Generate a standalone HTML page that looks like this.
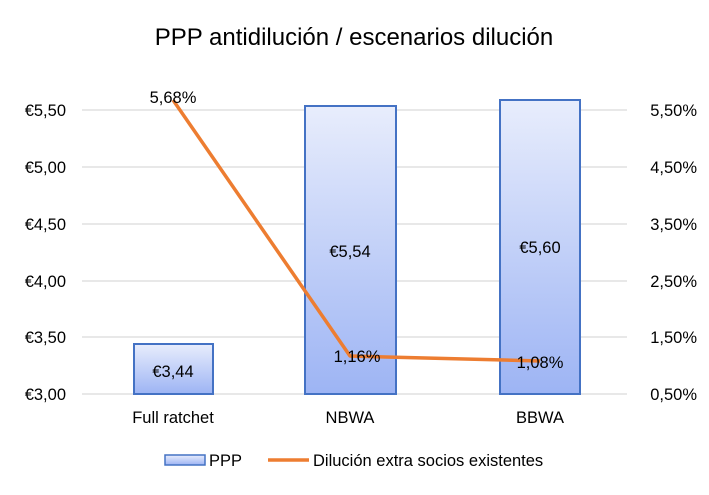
<!DOCTYPE html>
<html><head><meta charset="utf-8"><style>body{margin:0;background:#fff}</style></head><body>
<svg width="709" height="490" xmlns="http://www.w3.org/2000/svg" font-family="Liberation Sans, sans-serif">
<defs>
<linearGradient id="g1" x1="0" y1="0" x2="0" y2="1"><stop offset="0" stop-color="#e8edfc"/><stop offset="1" stop-color="#9db4f4"/></linearGradient>
</defs>
<text x="354" y="45" font-size="24" text-anchor="middle" fill="#000">PPP antidilución  / escenarios  dilución</text>
<g stroke="#d9d9d9" stroke-width="1.3">
<line x1="82" x2="627" y1="110" y2="110"/><line x1="82" x2="627" y1="167" y2="167"/>
<line x1="82" x2="627" y1="224" y2="224"/><line x1="82" x2="627" y1="281" y2="281"/>
<line x1="82" x2="627" y1="337" y2="337"/><line x1="82" x2="627" y1="394" y2="394"/>
</g>
<g font-size="16.5" fill="#000" text-anchor="end">
<text x="66" y="116">€5,50</text><text x="66" y="173">€5,00</text><text x="66" y="230">€4,50</text>
<text x="66" y="287">€4,00</text><text x="66" y="343">€3,50</text><text x="66" y="400">€3,00</text>
</g>
<g font-size="16.5" fill="#000" text-anchor="end">
<text x="697" y="116">5,50%</text><text x="697" y="173">4,50%</text><text x="697" y="230">3,50%</text>
<text x="697" y="287">2,50%</text><text x="697" y="343">1,50%</text><text x="697" y="400">0,50%</text>
</g>
<g stroke="#4472c4" stroke-width="2" fill="url(#g1)">
<rect x="134" y="344" width="79" height="50"/>
<rect x="305" y="106" width="91" height="288"/>
<rect x="500" y="100" width="80" height="294"/>
</g>
<g font-size="16.5" fill="#000" text-anchor="middle">
<text x="173" y="377">€3,44</text><text x="350" y="257">€5,54</text><text x="540" y="253">€5,60</text>
</g>
<polyline points="173,100 350,356 540,361" fill="none" stroke="#ed7d31" stroke-width="3.5" stroke-linejoin="round"/>
<g font-size="16.5" fill="#000" text-anchor="middle">
<text x="173" y="103">5,68%</text><text x="357" y="362">1,16%</text><text x="540" y="368">1,08%</text>
</g>
<g font-size="16.5" fill="#000" text-anchor="middle">
<text x="173" y="423">Full ratchet</text><text x="350" y="423">NBWA</text><text x="540" y="423">BBWA</text>
</g>
<rect x="165" y="455" width="40" height="10" fill="url(#g1)" stroke="#4472c4" stroke-width="1.5"/>
<text x="209" y="466" font-size="16.5">PPP</text>
<line x1="268" x2="309" y1="460" y2="460" stroke="#ed7d31" stroke-width="3.5"/>
<text x="313" y="466" font-size="16.5">Dilución extra socios existentes</text>
</svg>
</body></html>
